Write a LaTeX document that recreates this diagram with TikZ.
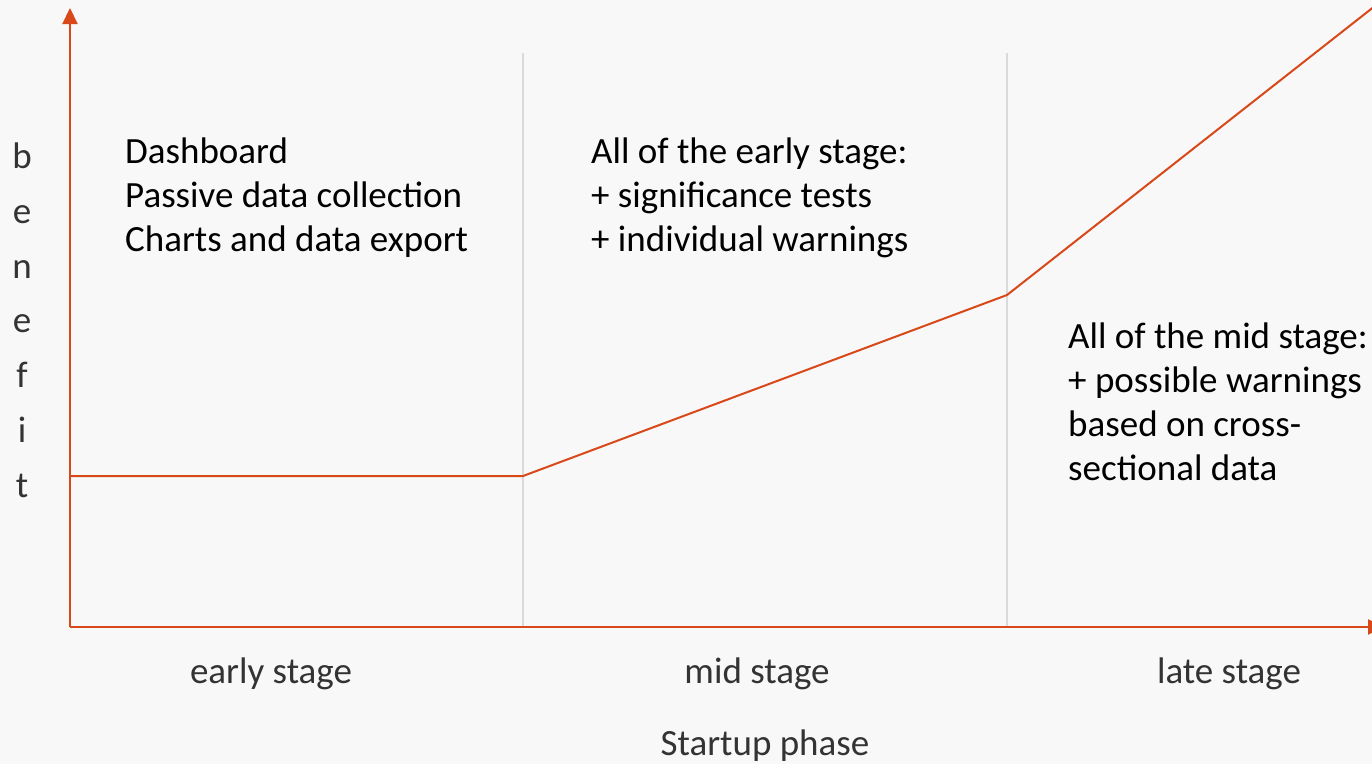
\documentclass[tikz,border=0pt]{standalone}
\usepackage{fontspec}
\setmainfont{Carlito}
\usetikzlibrary{arrows.meta}
\definecolor{accent}{RGB}{216,72,24}
\definecolor{divider}{RGB}{218,218,218}
\definecolor{paper}{RGB}{248,248,248}
\begin{document}
\begin{tikzpicture}[x=1pt,y=-1pt,
  axis/.style={draw=accent,line width=2.2pt,-{Triangle[length=16pt,width=15pt]}},
  curve/.style={draw=accent,line width=2pt,line join=round},
  divline/.style={draw=divider,line width=2pt},
  body/.style={font=\fontsize{37}{44}\selectfont,align=left,anchor=base west,inner sep=0pt,text=black},
  lab/.style={font=\fontsize{37}{44}\selectfont,text=black!80,inner sep=0pt,anchor=base},
  letter/.style={font=\fontsize{37}{44}\selectfont,text=black!80,inner sep=0pt,anchor=base}]
\useasboundingbox (0,0) rectangle (1372,764);
\fill[paper] (0,0) rectangle (1372,764);
\clip (0,0) rectangle (1372,764);
% coordinates
\coordinate (O) at (70,627);
\coordinate (ytop) at (70,8);
\coordinate (xend) at (1384,627);
\coordinate (d1top) at (523,53);
\coordinate (d1bot) at (523,627);
\coordinate (d2top) at (1007,53);
\coordinate (d2bot) at (1007,627);
\coordinate (p0) at (70,476);
\coordinate (p1) at (523,476);
\coordinate (p2) at (1007,295);
\coordinate (p3) at (1380,2);
% dividers
\draw[divline] (d1top) -- (d1bot);
\draw[divline] (d2top) -- (d2bot);
% curve
\draw[curve] (p0) -- (p1) -- (p2) -- (p3);
% axes
\draw[axis] (O) -- (ytop);
\draw[axis] (O) -- (xend);
% texts (base anchor = baseline of last line)
\node[body] (t1) at (125,251) {Dashboard\\Passive data collection\\Charts and data export};
\node[body] (t2) at (591,251) {All of the early stage:\\+ significance tests\\+ individual warnings};
\node[body] (t3) at (1068,480) {All of the mid stage:\\+ possible warnings\\based on cross-\\sectional data};
\node[lab] (l1) at (271,683) {early stage};
\node[lab] (l2) at (757,683) {mid stage};
\node[lab] (l3) at (1229,683) {late stage};
\node[lab] (l4) at (765,755) {Startup phase};
\node[letter] (b1) at (22,168) {b};
\node[letter] (b2) at (22,223) {e};
\node[letter] (b3) at (22,278) {n};
\node[letter] (b4) at (22,332) {e};
\node[letter] (b5) at (22,387) {f};
\node[letter] (b6) at (22,442) {i};
\node[letter] (b7) at (22,497) {t};
\end{tikzpicture}
\end{document}
